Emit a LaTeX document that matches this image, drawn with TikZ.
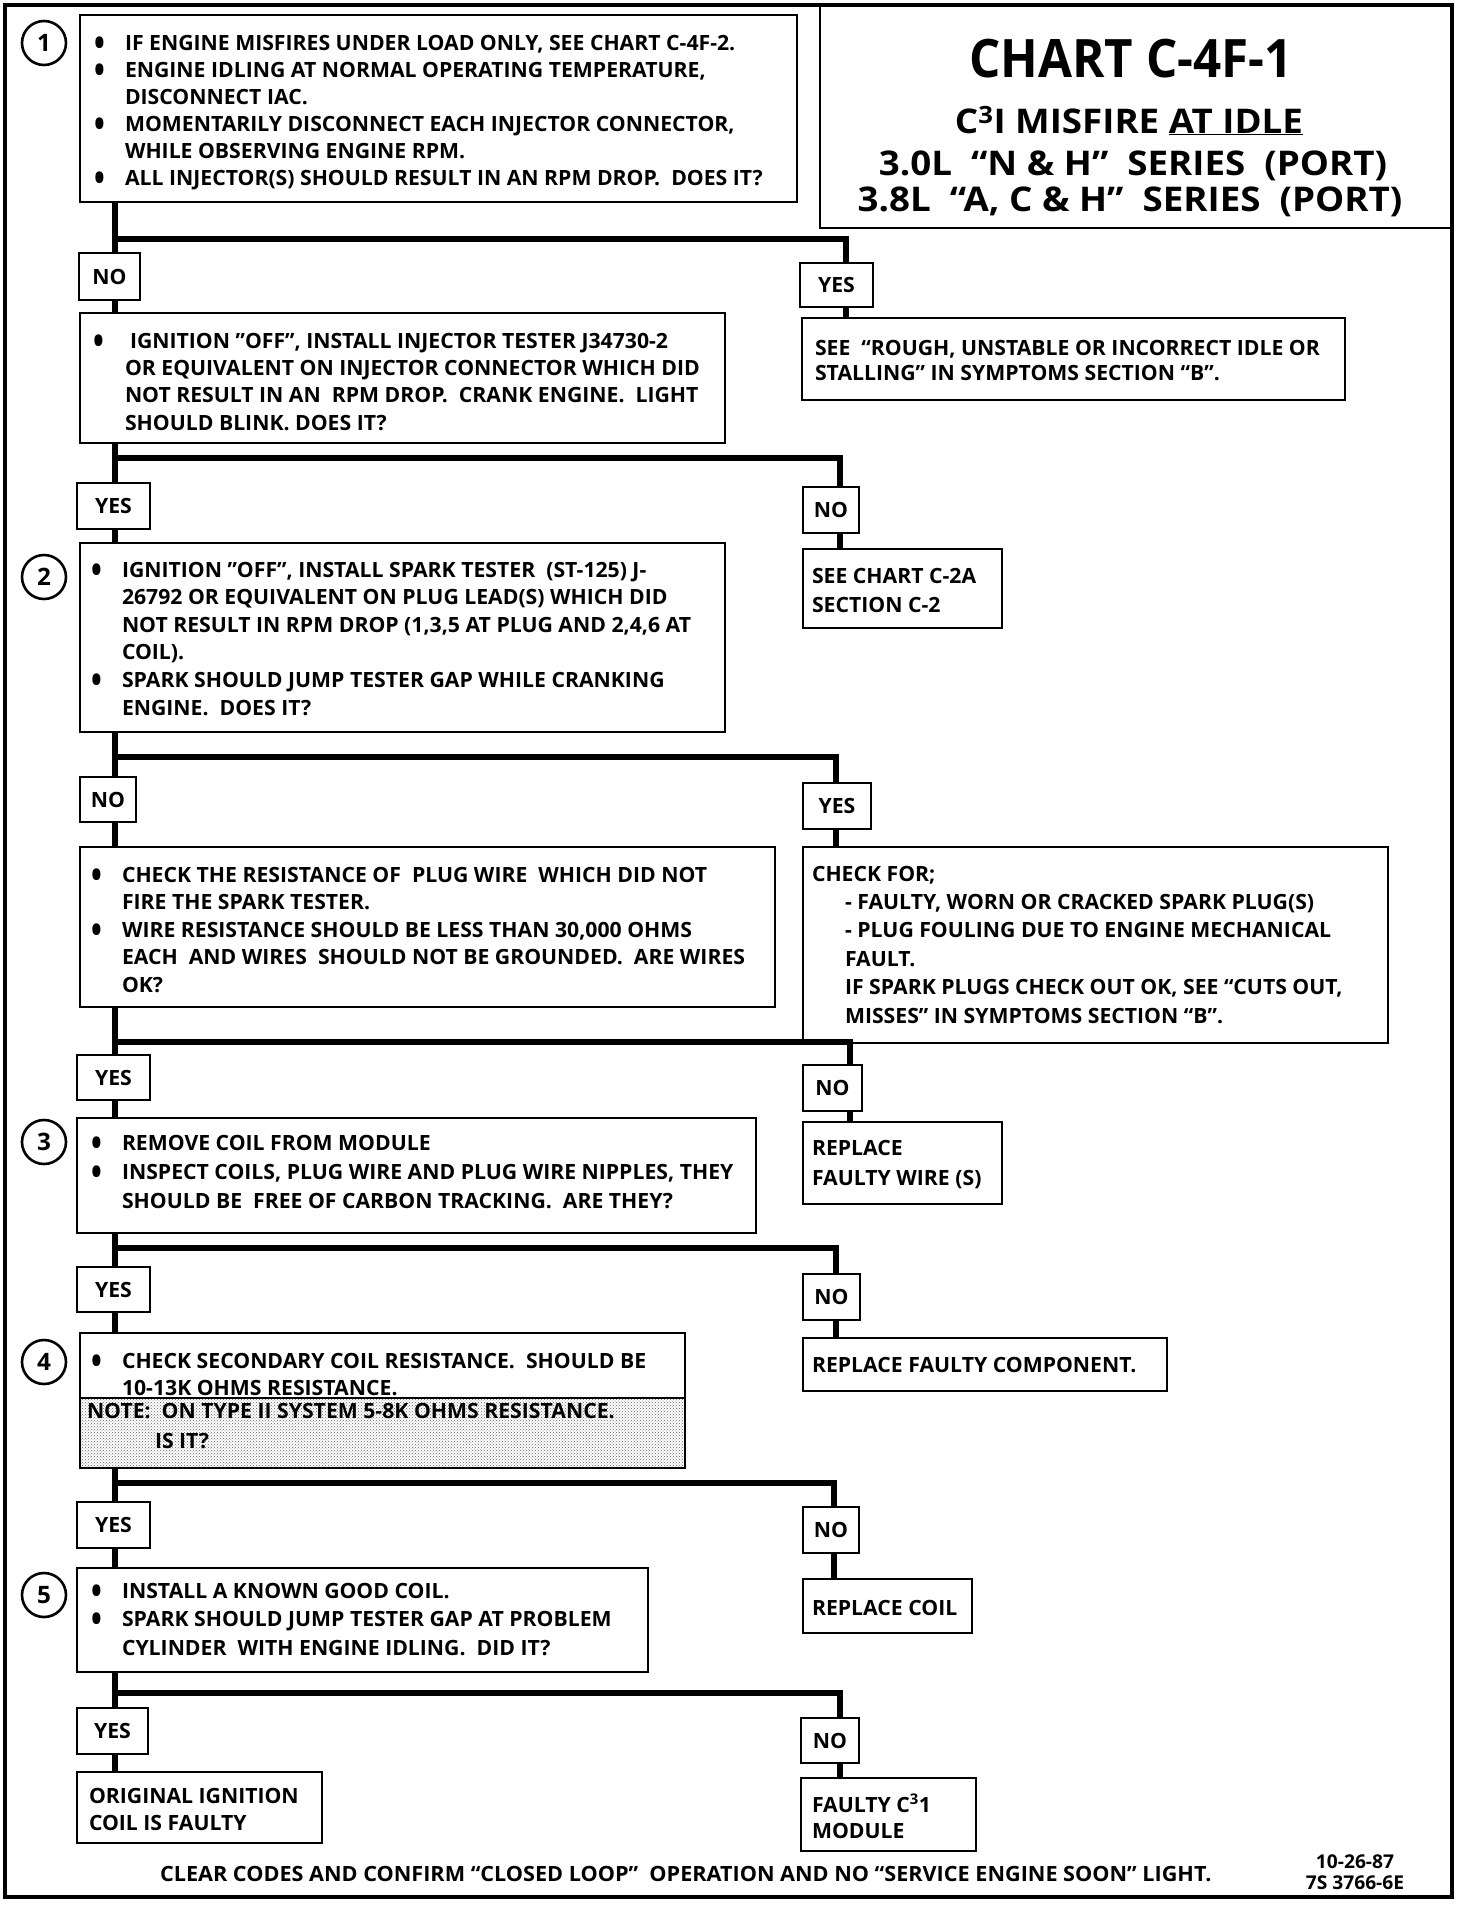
\documentclass[tikz,border=0pt]{standalone}
\usepackage{fontspec}
\usepackage{graphicx}
\setmainfont{Open Sans}[FakeStretch=1.01]
\newfontfamily\bigf{Open Sans}[FakeStretch=0.93]
\newfontfamily\midf{Open Sans}[FakeStretch=1.08]
\newfontfamily\footf{Open Sans}[FakeStretch=1.03]
\usetikzlibrary{patterns}
\newcommand\fs[1]{\fontsize{21}{#1}\selectfont\bfseries}
\newcommand\bulglyph{\raisebox{-6pt}{\scalebox{1.35}[1.8]{•}}}
\newcommand\bul{\makebox[31pt][l]{\bulglyph}}
\newcommand\ind{\hspace*{31pt}}
\newcommand\bx[6]{\node[box, minimum width={(#4-#2)*1pt}, minimum height={(#5-#3)*1pt}] (#1) at ({(#2+#4)/2},{(#3+#5)/2}) {#6};}
\tikzset{
  box/.style={draw, line width=2.6pt, inner sep=0pt, outer sep=0pt, font=\fs{27}},
  txt/.style={anchor=base west, inner sep=0pt, outer sep=0pt, align=left, font=\fs{27.5}},
  conn/.style={line width=6pt, line join=miter},
  circ/.style={draw, circle, line width=2.6pt, minimum size=44pt, inner sep=0pt, font=\fontsize{24}{24}\selectfont\bfseries},
}
\begin{document}
\begin{tikzpicture}[x=1pt,y=-1pt]
\useasboundingbox (0,0) rectangle (1472,1914);
% frame
\draw[line width=4pt] (5,5) rectangle (1452,1897);
\bx{title}{820}{5}{1452}{228}{}
\node[anchor=base, inner sep=0pt] (tt1) at (1131,77) {\fontsize{53}{53}\selectfont\bigf\bfseries CHART C-4F-1};
\node[anchor=base, inner sep=0pt] (tt2) at (1129,133) {\fontsize{34}{34}\selectfont\midf\bfseries C\textsuperscript{3}I MISFIRE \underline{AT IDLE}};
\node[anchor=base, inner sep=0pt] (tt3) at (1133,175) {\fontsize{34}{34}\selectfont\midf\bfseries 3.0L\ \ “N \& H”\ \ SERIES\ \ (PORT)};
\node[anchor=base, inner sep=0pt] (tt4) at (1130,211) {\fontsize{34}{34}\selectfont\midf\bfseries 3.8L\ \ “A, C \& H”\ \ SERIES\ \ (PORT)};
% circles
\node[circ] (n1) at (44,43) {1};
\node[circ] (n2) at (44,577) {2};
\node[circ] (n3) at (44,1142) {3};
\node[circ] (n4) at (44,1362) {4};
\node[circ] (n5) at (44,1595) {5};
% boxes
\bx{b1}{80}{15}{797}{202}{}
\bx{lNo1}{79}{253}{140}{300}{NO}
\bx{rYes1}{800}{263}{873}{307}{YES}
\bx{see1}{802}{318}{1345}{400}{}
\bx{b2}{80}{313}{725}{443}{}
\bx{lYes2}{77}{483}{150}{529}{YES}
\bx{rNo2}{803}{487}{859}{533}{NO}
\bx{see2}{803}{549}{1002}{628}{}
\bx{b3}{80}{543}{725}{732}{}
\bx{lNo3}{80}{777}{136}{822}{NO}
\bx{rYes3}{803}{783}{871}{829}{YES}
\bx{chk}{80}{847}{775}{1007}{}
\bx{chkfor}{803}{847}{1388}{1043}{}
\bx{lYes4}{77}{1055}{150}{1100}{YES}
\bx{rNo4}{803}{1065}{862}{1111}{NO}
\bx{repw}{803}{1122}{1002}{1204}{}
\bx{b5}{77}{1118}{756}{1233}{}
\bx{lYes5}{77}{1267}{150}{1312}{YES}
\bx{rNo5}{803}{1274}{860}{1320}{NO}
\bx{repc}{803}{1338}{1167}{1391}{}
\node[draw, line width=2.6pt, inner sep=0pt, outer sep=0pt, pattern=crosshatch dots, pattern color=black!60, minimum width=605pt, minimum height=70pt] (note) at (382.5,1433) {};
\bx{b6}{80}{1333}{685}{1398}{}
\bx{lYes6}{77}{1502}{150}{1548}{YES}
\bx{rNo6}{803}{1507}{859}{1553}{NO}
\bx{repcoil}{803}{1579}{972}{1633}{}
\bx{b7}{77}{1568}{648}{1672}{}
\bx{lYes7}{77}{1708}{148}{1754}{YES}
\bx{rNo7}{801}{1718}{859}{1763}{NO}
\bx{orig}{77}{1772}{322}{1843}{}
\bx{faulty}{801}{1778}{976}{1851}{}
% junctions
\coordinate (j1) at (115,239); \coordinate (c1) at (846,239);
\coordinate (j2) at (115,458); \coordinate (c2) at (840,458);
\coordinate (j3) at (115,757); \coordinate (c3) at (836,757);
\coordinate (j4) at (115,1042); \coordinate (c4) at (850,1042);
\coordinate (j5) at (115,1248); \coordinate (c5) at (836,1248);
\coordinate (j6) at (115,1483); \coordinate (c6) at (834,1483);
\coordinate (j7) at (115,1693); \coordinate (c7) at (840,1693);
% connectors
\draw[conn] (b1.south -| j1) -- (j1) -- (c1) -- (rYes1.north -| c1);
\draw[conn] (j1) -- (lNo1.north -| j1);
\draw[conn] (lNo1.south -| j1) -- (b2.north -| j1);
\draw[conn] (rYes1.south -| c1) -- (see1.north -| c1);
\draw[conn] (b2.south -| j2) -- (j2) -- (c2) -- (rNo2.north -| c2);
\draw[conn] (j2) -- (lYes2.north -| j2);
\draw[conn] (lYes2.south -| j2) -- (b3.north -| j2);
\draw[conn] (rNo2.south -| c2) -- (see2.north -| c2);
\draw[conn] (b3.south -| j3) -- (j3) -- (c3) -- (rYes3.north -| c3);
\draw[conn] (j3) -- (lNo3.north -| j3);
\draw[conn] (lNo3.south -| j3) -- (chk.north -| j3);
\draw[conn] (rYes3.south -| c3) -- (chkfor.north -| c3);
\draw[conn] (chk.south -| j4) -- (j4) -- (c4) -- (rNo4.north -| c4);
\draw[conn] (j4) -- (lYes4.north -| j4);
\draw[conn] (lYes4.south -| j4) -- (b5.north -| j4);
\draw[conn] (rNo4.south -| c4) -- (repw.north -| c4);
\draw[conn] (b5.south -| j5) -- (j5) -- (c5) -- (rNo5.north -| c5);
\draw[conn] (j5) -- (lYes5.north -| j5);
\draw[conn] (lYes5.south -| j5) -- (b6.north -| j5);
\draw[conn] (rNo5.south -| c5) -- (repc.north -| c5);
\draw[conn] (note.south -| j6) -- (j6) -- (c6) -- (rNo6.north -| c6);
\draw[conn] (j6) -- (lYes6.north -| j6);
\draw[conn] (lYes6.south -| j6) -- (b7.north -| j6);
\draw[conn] (rNo6.south -| c6) -- (repcoil.north -| c6);
\draw[conn] (b7.south -| j7) -- (j7) -- (c7) -- (rNo7.north -| c7);
\draw[conn] (j7) -- (lYes7.north -| j7);
\draw[conn] (lYes7.south -| j7) -- (orig.north -| j7);
\draw[conn] (rNo7.south -| c7) -- (faulty.north -| c7);
% texts (anchored at the baseline of the last line)
\node[txt, font=\fs{27}] (t1) at (94,185) {\bul IF ENGINE MISFIRES UNDER LOAD ONLY, SEE CHART C-4F-2.\\
\bul ENGINE IDLING AT NORMAL OPERATING TEMPERATURE,\\
\ind DISCONNECT IAC.\\
\bul MOMENTARILY DISCONNECT EACH INJECTOR CONNECTOR,\\
\ind WHILE OBSERVING ENGINE RPM.\\
\bul ALL INJECTOR(S) SHOULD RESULT IN AN RPM DROP.\ \ DOES IT?};
\node[txt, font=\fs{27.3}] (t2) at (93,430) {\makebox[37pt][l]{\bulglyph}IGNITION "OFF", INSTALL INJECTOR TESTER J34730-2\\
\hspace*{32pt}OR EQUIVALENT ON INJECTOR CONNECTOR WHICH DID\\
\hspace*{32pt}NOT RESULT IN AN\ \ RPM DROP.\ \ CRANK ENGINE.\ \ LIGHT\\
\hspace*{32pt}SHOULD BLINK. DOES IT?};
\node[txt, font=\fs{25}] (ts1) at (815,380) {SEE\ \ “ROUGH, UNSTABLE OR INCORRECT IDLE OR\\STALLING” IN SYMPTOMS SECTION “B”.};
\node[txt, font=\fs{27.6}] (t3) at (91,715) {\bul IGNITION "OFF", INSTALL SPARK TESTER\ \ (ST-125) J-\\
\ind 26792 OR EQUIVALENT ON PLUG LEAD(S) WHICH DID\\
\ind NOT RESULT IN RPM DROP (1,3,5 AT PLUG AND 2,4,6 AT\\
\ind COIL).\\
\bul SPARK SHOULD JUMP TESTER GAP WHILE CRANKING\\
\ind ENGINE.\ \ DOES IT?};
\node[txt, font=\fs{29}] (ts2) at (812,612) {SEE CHART C-2A\\SECTION C-2};
\node[txt, font=\fs{27.5}] (t4) at (91,992) {\bul CHECK THE RESISTANCE OF\ \ PLUG WIRE\ \ WHICH DID NOT\\
\ind FIRE THE SPARK TESTER.\\
\bul WIRE RESISTANCE SHOULD BE LESS THAN 30,000 OHMS\\
\ind EACH\ \ AND WIRES\ \ SHOULD NOT BE GROUNDED.\ \ ARE WIRES\\
\ind OK?};
\node[txt, font=\fs{28.4}] (t4r) at (812,1023) {CHECK FOR;\\
\hspace*{33pt}- FAULTY, WORN OR CRACKED SPARK PLUG(S)\\
\hspace*{33pt}- PLUG FOULING DUE TO ENGINE MECHANICAL\\
\hspace*{33pt}FAULT.\\
\hspace*{33pt}IF SPARK PLUGS CHECK OUT OK, SEE “CUTS OUT,\\
\hspace*{33pt}MISSES” IN SYMPTOMS SECTION “B”.};
\node[txt, font=\fs{29}] (t5) at (91,1208) {\bul REMOVE COIL FROM MODULE\\
\bul INSPECT COILS, PLUG WIRE AND PLUG WIRE NIPPLES, THEY\\
\ind SHOULD BE\ \ FREE OF CARBON TRACKING.\ \ ARE THEY?};
\node[txt, font=\fs{30}] (t5r) at (812,1185) {REPLACE\\FAULTY WIRE (S)};
\node[txt, font=\fs{27}] (t6) at (91,1395) {\bul CHECK SECONDARY COIL RESISTANCE.\ \ SHOULD BE\\
\ind 10-13K OHMS RESISTANCE.};
\node[txt, font=\fs{30}] (t6n) at (87,1448) {NOTE:\ \ ON TYPE II SYSTEM 5-8K OHMS RESISTANCE.\\
\hspace*{68pt}IS IT?};
\node[txt] (t6r) at (812,1372) {REPLACE FAULTY COMPONENT.};
\node[txt, font=\fs{28.5}] (t7) at (91,1655) {\bul INSTALL A KNOWN GOOD COIL.\\
\bul SPARK SHOULD JUMP TESTER GAP AT PROBLEM\\
\ind CYLINDER\ \ WITH ENGINE IDLING.\ \ DID IT?};
\node[txt] (t7r) at (812,1615) {REPLACE COIL};
\node[txt, font=\fs{27}] (t8) at (89,1830) {ORIGINAL IGNITION\\COIL IS FAULTY};
\node[txt, font=\fs{26}] (t8r) at (812,1838) {FAULTY C\textsuperscript{3}1\\MODULE};
\node[txt, font=\footf\fs{27}] (foot) at (160,1881) {CLEAR CODES AND CONFIRM “CLOSED LOOP”\ \ OPERATION AND NO “SERVICE ENGINE SOON” LIGHT.};
\node[anchor=base, inner sep=0pt, align=center, font=\fontsize{19}{21}\selectfont\bfseries] (date) at (1355,1889) {10-26-87\\7S 3766-6E};
\end{tikzpicture}
\end{document}
